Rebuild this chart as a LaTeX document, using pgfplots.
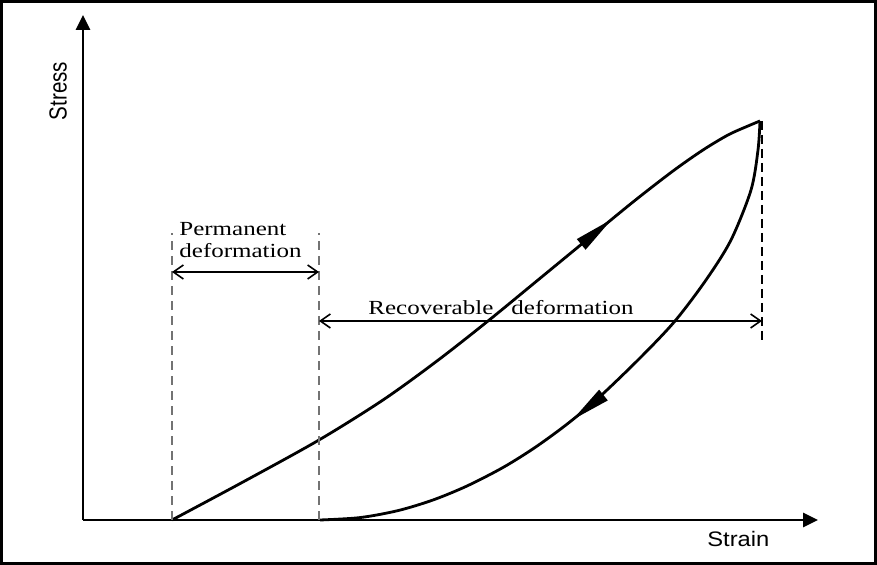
\documentclass[border=0pt]{standalone}
\usepackage{fontspec}
\setmainfont{Liberation Serif}
\setsansfont{Liberation Sans}
\usepackage{graphicx}
\usepackage{pgfplots}
\pgfplotsset{compat=1.18}
\usetikzlibrary{arrows.meta,decorations.markings}
\begin{document}
\begin{tikzpicture}
\begin{axis}[
  scale only axis, width=367.5pt, height=252.5pt,
  xmin=0, xmax=735, ymin=0, ymax=505,
  axis lines=left,
  axis line style={line width=1.3pt, -{Triangle[length=7.5pt,width=7pt]}},
  xtick=\empty, ytick=\empty,
  clip=false,
]
% frame
\draw[line width=1.5pt] (axis cs:-81.5,-43.5) rectangle (axis cs:792.5,518.5);
% loading curve
\addplot[line width=1.4pt, smooth, postaction={decorate},
  decoration={markings, mark=at position 0.75 with {\arrow{Triangle[length=20pt,width=6.5pt]}}}]
  coordinates {(89,0) (160,38) (236,80) (300,120) (354,159) (405,199) (455,240) (500,277) (550,318) (590,349) (620,370) (645,385) (665,394) (677,399)};
% unloading curve
\addplot[line width=1.4pt, smooth, postaction={decorate},
  decoration={markings, mark=at position 0.569 with {\arrow{Triangle[length=20pt,width=6.5pt]}}}]
  coordinates {(677,399) (675,370) (668,330) (648,280) (623,240) (592,199) (558,163) (517,123.5) (485,96.6) (452,72.5) (420,52.5) (384,34) (350,20) (315,9.4) (277,2.4) (237,0)};
% dashed guides
\addplot[black!55, line width=0.8pt, dash pattern=on 4.5pt off 3pt] coordinates {(89,0) (89,287)};
\addplot[black!55, line width=0.8pt, dash pattern=on 4.5pt off 3pt] coordinates {(236,0) (236,287)};
\addplot[black, line width=0.9pt, dash pattern=on 4.5pt off 2.5pt] coordinates {(679,399) (679,180)};
% double arrows
\addplot[line width=0.8pt, {Straight Barb[length=5pt,width=7pt]}-{Straight Barb[length=5pt,width=7pt]}] coordinates {(89,248) (236,248)};
\addplot[line width=0.8pt, {Straight Barb[length=5pt,width=7pt]}-{Straight Barb[length=5pt,width=7pt]}] coordinates {(236,199) (679,199)};
% texts
\node[anchor=base west, font=\fontsize{10pt}{12pt}\selectfont, inner sep=0pt] at (axis cs:96,284) {\scalebox{1.25}[1]{Permanent}};
\node[anchor=base west, font=\fontsize{10pt}{12pt}\selectfont, inner sep=0pt] at (axis cs:96,262) {\scalebox{1.25}[1]{deformation}};
\node[anchor=base west, font=\fontsize{10pt}{12pt}\selectfont, inner sep=0pt] at (axis cs:285,205) {\scalebox{1.25}[1]{Recoverable}};
\node[anchor=base west, font=\fontsize{10pt}{12pt}\selectfont, inner sep=0pt] at (axis cs:428,205) {\scalebox{1.25}[1]{deformation}};
\node[rotate=90, anchor=center, font=\sffamily\fontsize{10.3pt}{12pt}\selectfont, inner sep=0pt] at (axis cs:-25,429) {\scalebox{1}[1.2]{Stress}};
\node[anchor=base west, font=\sffamily\fontsize{10.5pt}{12pt}\selectfont, inner sep=0pt] at (axis cs:624,-27) {\scalebox{1.13}[1]{Strain}};
\end{axis}
\end{tikzpicture}
\end{document}
